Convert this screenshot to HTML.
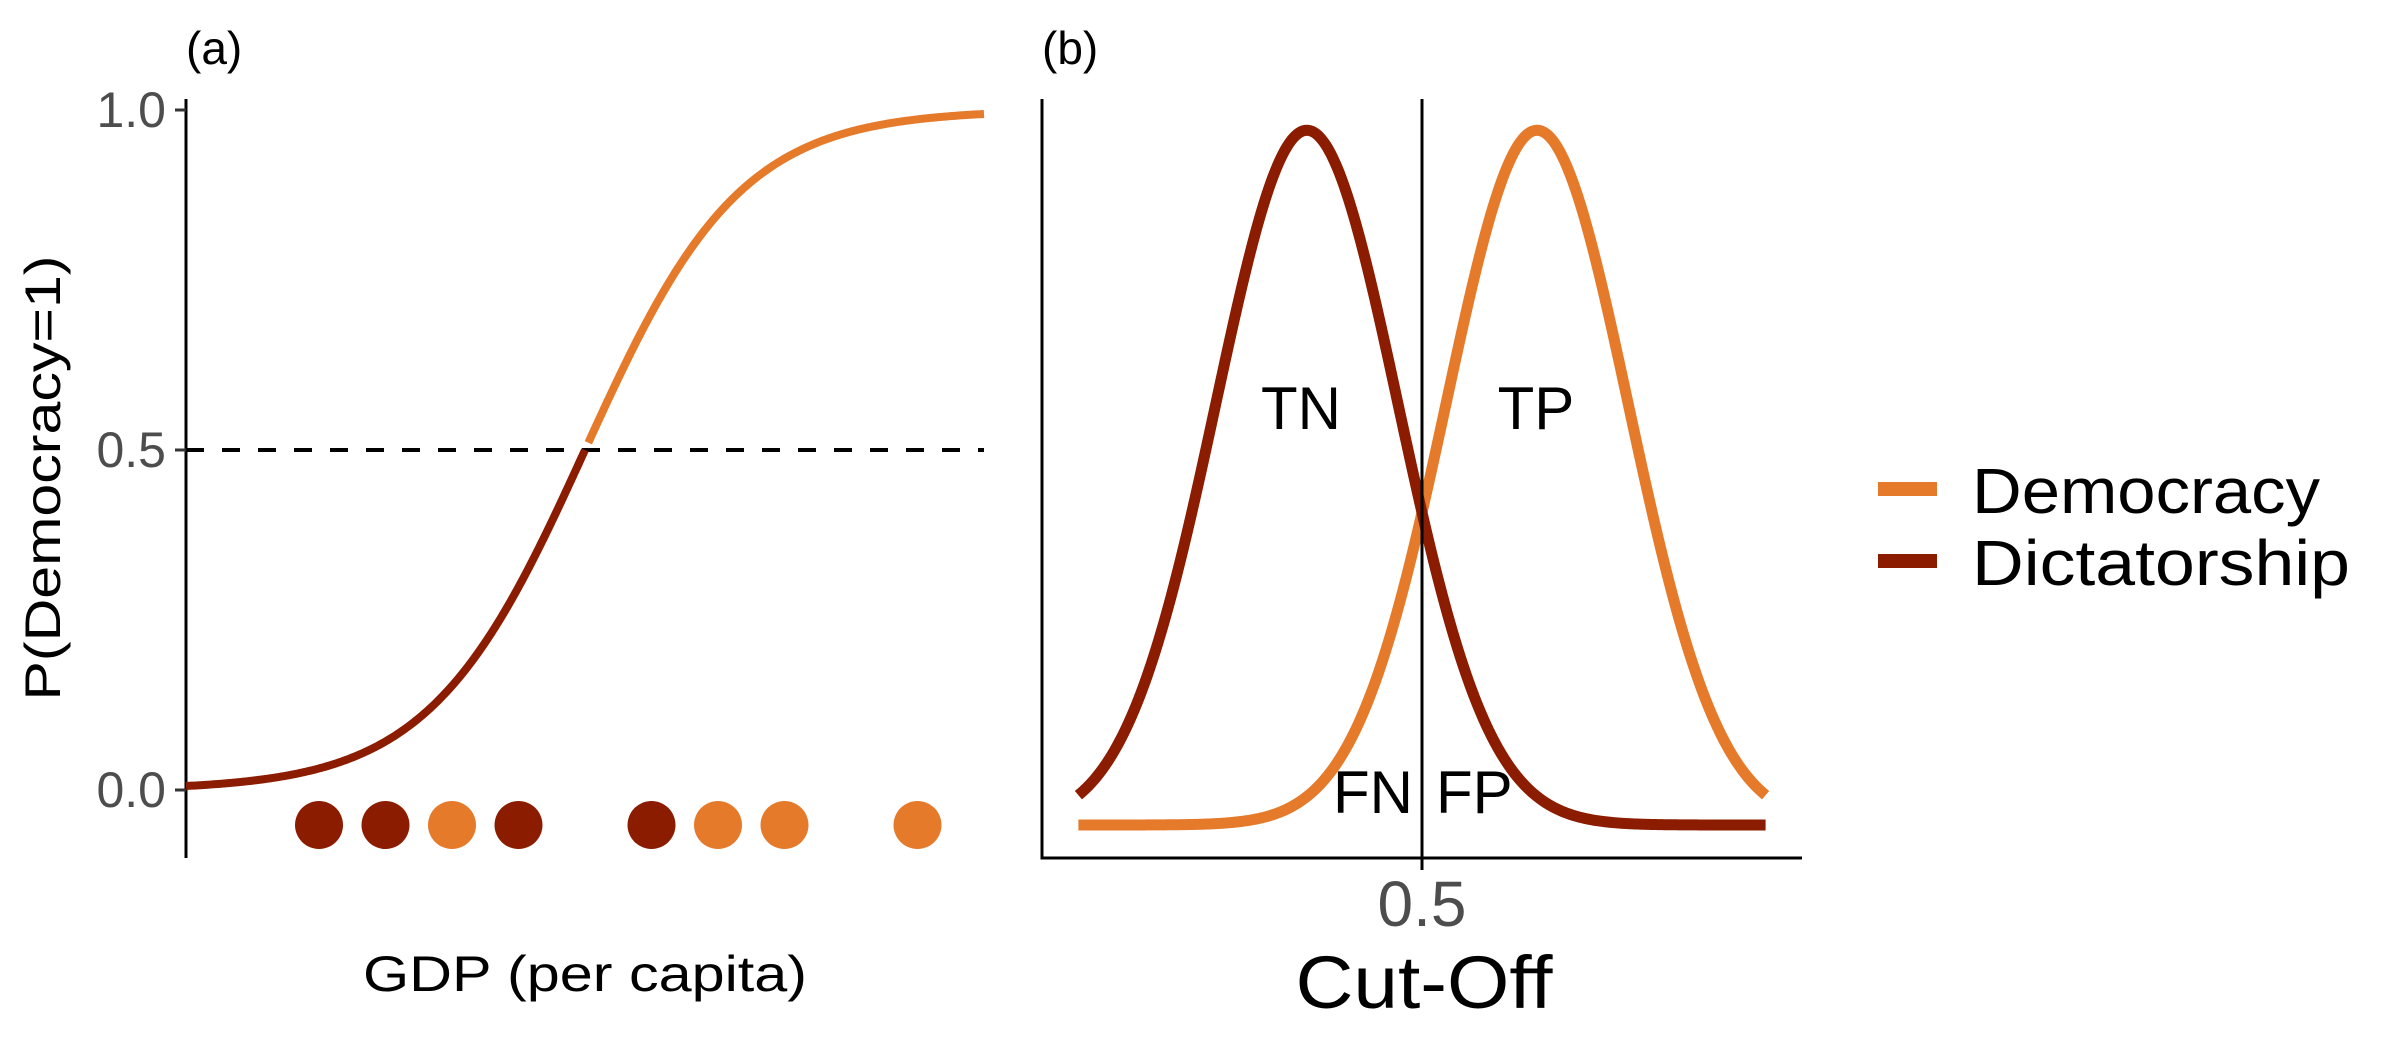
<!DOCTYPE html>
<html><head><meta charset="utf-8"><style>
html,body{margin:0;padding:0;background:#fff;}
svg{display:block;font-family:"Liberation Sans",sans-serif;}
</style></head><body>
<svg id="chart" width="2400" height="1050" viewBox="0 0 2400 1050">
  <g id="pa"></g>
  <g id="pb"></g>
  <g id="lg"></g>
</svg>
<script>
// Panel (a) data
const gdpPoints = [2, 3, 4, 5, 7, 8, 9, 11];
const gdpClasses = ['dict','dict','dem','dict','dict','dem','dem','dem'];
const logitMid = [6];
const logitSlope = [0.855];
const yTicksA = [0, 0.5, 1];
const yTickLabelsA = ['0.0','0.5','1.0'];
// Panel (b) data
const classNames = ['Democracy','Dictatorship'];
const classMeans = [0.634, 0.366];
const classSds = [0.106, 0.106];
const cutoff = [0.5];
const xTickLabelsB = ['0.5'];

const ORANGE='#E67A2B', DARK='#8B1C00';
const NS='http://www.w3.org/2000/svg';
function mk(tag, attrs, parent, text){
  const e=document.createElementNS(NS,tag);
  for(const k in attrs) e.setAttribute(k,attrs[k]);
  if(text!==undefined) e.textContent=text;
  parent.appendChild(e); return e;
}
// ---------- Panel A ----------
const pa=document.getElementById('pa');
const xA=v=>186+v*66.5;
const yA=v=>790-v*680;
const logit=x=>1/(1+Math.exp(-logitSlope[0]*(x-logitMid[0])));
// axis
let ax=mk('line',{x1:186,y1:99,x2:186,y2:858,stroke:'#000','stroke-width':3},pa);


yTicksA.forEach((t,i)=>{
  let tk=mk('line',{x1:175,y1:yA(t),x2:186,y2:yA(t),stroke:'#333','stroke-width':3},pa);
  
  
  let tl=mk('text',{x:166,y:yA(t)+17,'text-anchor':'end','font-size':50,fill:'#4d4d4d'},pa,yTickLabelsA[i]);
  
  
});
// dashed line
let dl=mk('line',{x1:186,y1:yA(0.5),x2:984,y2:yA(0.5),stroke:'#000','stroke-width':4,'stroke-dasharray':'18 18'},pa);


// curve split at midpoint
function curvePath(a,b){
  let d='';for(let i=0;i<=200;i++){const x=a+(b-a)*i/200;d+=(i?'L':'M')+xA(x).toFixed(2)+','+yA(logit(x)).toFixed(2);}return d;
}
let c1=mk('path',{d:curvePath(0,logitMid[0]),fill:'none',stroke:DARK,'stroke-width':8},pa);


let c2=mk('path',{d:curvePath(logitMid[0]+0.05,12),fill:'none',stroke:ORANGE,'stroke-width':8},pa);


gdpPoints.forEach((p,i)=>{
  let c=mk('circle',{cx:xA(p),cy:825,r:24,fill:gdpClasses[i]==='dem'?ORANGE:DARK},pa);
  
  
});
let yt=mk('text',{x:0,y:0,transform:'translate(60,478) rotate(-90)','text-anchor':'middle','font-size':50,fill:'#000',textLength:445,lengthAdjust:'spacingAndGlyphs'},pa,'P(Democracy=1)');


let xt=mk('text',{x:585,y:991,'text-anchor':'middle','font-size':50,fill:'#000',textLength:444,lengthAdjust:'spacingAndGlyphs'},pa,'GDP (per capita)');


let ta=mk('text',{x:186,y:64,'font-size':46,fill:'#000'},pa,'(a)');


// ---------- Panel B ----------
const pb=document.getElementById('pb');
const xB=v=>1422+(v-0.5)*859;
const yB=v=>825-v*184.6;
const dens=(x,m,s)=>Math.exp(-((x-m)**2)/(2*s*s))/(s*Math.sqrt(2*Math.PI));
let axb=mk('path',{d:'M1042,99 L1042,858 L1802,858',fill:'none',stroke:'#000','stroke-width':3},pb);


classNames.forEach((n,i)=>{
  let d='';for(let k=0;k<=300;k++){const x=0.1+0.8*k/300;d+=(k?'L':'M')+xB(x).toFixed(2)+','+yB(dens(x,classMeans[i],classSds[i])).toFixed(2);}
  let p=mk('path',{d:d,fill:'none',stroke:i===0?ORANGE:DARK,'stroke-width':11},pb);
  
  
});
let vl=mk('line',{x1:xB(cutoff[0]),y1:99,x2:xB(cutoff[0]),y2:870,stroke:'#000','stroke-width':3},pb);


let xl=mk('text',{x:xB(cutoff[0]),y:926,'text-anchor':'middle','font-size':64,fill:'#4d4d4d'},pb,xTickLabelsB[0]);


let xtb=mk('text',{x:1424,y:1008,'text-anchor':'middle','font-size':74,fill:'#000',textLength:257,lengthAdjust:'spacingAndGlyphs'},pb,'Cut-Off');


let tb=mk('text',{x:1042,y:64,'font-size':46,fill:'#000'},pb,'(b)');


[['TN',1301,429,'middle'],['TP',1536,429,'middle'],['FN',1413,813,'end'],['FP',1436,813,'start']].forEach(a=>{
  let t=mk('text',{x:a[1],y:a[2],'text-anchor':a[3],'font-size':60,fill:'#000'},pb,a[0]);
  
  
});
// ---------- Legend ----------
const lg=document.getElementById('lg');
[[ORANGE,489,513,'Democracy',348],[DARK,561,585,'Dictatorship',378]].forEach(a=>{
  let r=mk('rect',{x:1878,y:a[1]-7,width:59,height:14,fill:a[0]},lg);
  
  
  let t=mk('text',{x:1972,y:a[2],'font-size':64,fill:'#000',textLength:a[4],lengthAdjust:'spacingAndGlyphs'},lg,a[3]);
  
  
});
</script>
</body></html>
